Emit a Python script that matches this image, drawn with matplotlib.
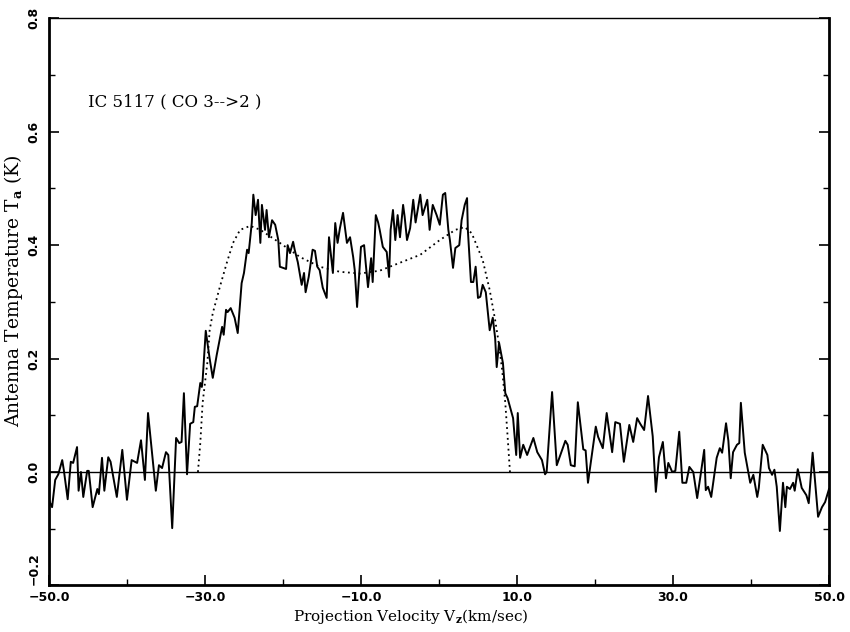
import numpy as np
import matplotlib.pyplot as plt
from matplotlib.ticker import MultipleLocator

# CO 3-2 spectrum of IC 5117
vel = [-50.0, -49.6, -49.2, -48.8, -48.3, -48.1, -47.6, -47.2, -46.9, -46.4,
       -46.2, -45.9, -45.6, -45.1, -44.9, -44.4, -43.8, -43.6, -43.2, -42.9,
       -42.4, -42.1, -41.3, -40.6, -40.0, -39.4, -38.7, -38.2, -37.7, -37.3,
       -36.3, -35.9, -35.5, -35.0, -34.7, -34.2, -33.7, -33.3, -33.0, -32.7,
       -32.3, -31.9, -31.5, -31.3, -31.0, -30.6, -30.4, -30.3, -29.9, -29.6,
       -29.4, -29.0, -28.5, -27.8, -27.6, -27.3, -27.1, -26.7, -26.2, -25.8,
       -25.3, -25.0, -24.6, -24.4, -24.0, -23.8, -23.5, -23.2, -22.9, -22.7,
       -22.3, -22.1, -21.8, -21.4, -21.0, -20.6, -20.4, -20.0, -19.6, -19.4,
       -19.1, -18.7, -18.5, -18.1, -17.6, -17.3, -17.1, -16.7, -16.2, -15.9,
       -15.6, -15.3, -14.9, -14.4, -14.1, -13.8, -13.6, -13.3, -13.0, -12.7,
       -12.3, -11.8, -11.4, -11.0, -10.8, -10.5, -10.0, -9.6, -9.4, -9.1,
       -8.7, -8.5, -8.1, -7.8, -7.6, -7.2, -6.7, -6.4, -6.2, -5.9,
       -5.6, -5.3, -5.0, -4.6, -4.4, -4.1, -3.7, -3.3, -3.0, -2.4,
       -2.1, -1.5, -1.2, -0.8, -0.3, 0.1, 0.5, 0.8, 1.2, 1.4,
       1.8, 2.1, 2.6, 2.9, 3.3, 3.6, 3.7, 4.1, 4.4, 4.7,
       5.0, 5.3, 5.6, 6.0, 6.5, 6.9, 7.2, 7.4, 7.7, 8.2,
       8.5, 8.8, 9.1, 9.5, 9.9, 10.1, 10.4, 10.8, 11.3, 12.1,
       12.6, 13.2, 13.6, 13.8, 14.5, 15.1, 16.2, 16.5, 16.9, 17.4,
       17.8, 18.5, 18.8, 19.1, 20.1, 20.4, 21.0, 21.5, 22.2, 22.6,
       23.2, 23.7, 24.4, 24.9, 25.4, 25.8, 26.3, 26.8, 27.4, 27.8,
       28.2, 28.7, 29.1, 29.4, 29.9, 30.3, 30.8, 31.2, 31.7, 32.1,
       32.6, 33.1, 33.5, 34.0, 34.2, 34.5, 34.9, 35.3, 35.6, 36.0,
       36.3, 36.8, 37.1, 37.4, 37.7, 38.2, 38.5, 38.7, 39.2, 39.9,
       40.3, 40.8, 41.0, 41.5, 42.1, 42.3, 42.7, 43.0, 43.3, 43.7,
       44.1, 44.4, 44.6, 45.0, 45.4, 45.6, 46.0, 46.5, 47.1, 47.4,
       47.9, 48.6, 49.1, 49.5, 49.9, 50.0]
temp = [-0.050, -0.062, -0.014, -0.004, 0.021, 0.004, -0.048, 0.018, 0.016, 0.044,
        -0.033, 0.000, -0.044, 0.002, 0.002, -0.062, -0.030, -0.039, 0.025, -0.033,
        0.026, 0.018, -0.044, 0.039, -0.049, 0.021, 0.016, 0.056, -0.014, 0.104,
        -0.033, 0.012, 0.007, 0.035, 0.030, -0.099, 0.060, 0.051, 0.053, 0.139,
        -0.004, 0.085, 0.088, 0.115, 0.116, 0.157, 0.150, 0.162, 0.249, 0.220,
        0.200, 0.166, 0.206, 0.256, 0.242, 0.286, 0.282, 0.289, 0.272, 0.245,
        0.333, 0.351, 0.392, 0.386, 0.439, 0.489, 0.453, 0.480, 0.404, 0.471,
        0.427, 0.462, 0.414, 0.444, 0.436, 0.409, 0.362, 0.360, 0.358, 0.400,
        0.386, 0.406, 0.392, 0.370, 0.330, 0.351, 0.317, 0.344, 0.392, 0.390,
        0.362, 0.356, 0.325, 0.307, 0.414, 0.377, 0.351, 0.439, 0.404, 0.430,
        0.457, 0.404, 0.414, 0.379, 0.356, 0.291, 0.397, 0.400, 0.369, 0.326,
        0.377, 0.335, 0.453, 0.440, 0.427, 0.397, 0.388, 0.344, 0.427, 0.462,
        0.409, 0.453, 0.414, 0.471, 0.450, 0.409, 0.430, 0.480, 0.440, 0.489,
        0.453, 0.480, 0.427, 0.471, 0.453, 0.436, 0.489, 0.492, 0.427, 0.409,
        0.360, 0.395, 0.400, 0.444, 0.471, 0.483, 0.427, 0.335, 0.335, 0.362,
        0.307, 0.309, 0.330, 0.317, 0.250, 0.272, 0.236, 0.185, 0.228, 0.192,
        0.139, 0.130, 0.115, 0.095, 0.030, 0.104, 0.025, 0.048, 0.030, 0.060,
        0.035, 0.021, -0.004, 0.000, 0.141, 0.012, 0.055, 0.048, 0.012, 0.010,
        0.123, 0.040, 0.038, -0.019, 0.080, 0.062, 0.042, 0.104, 0.035, 0.088,
        0.085, 0.018, 0.083, 0.053, 0.095, 0.085, 0.074, 0.134, 0.063, -0.035,
        0.026, 0.053, -0.011, 0.016, 0.000, 0.002, 0.071, -0.019, -0.019, 0.009,
        0.000, -0.046, -0.009, 0.039, -0.032, -0.026, -0.044, -0.005, 0.025, 0.042,
        0.034, 0.086, 0.055, -0.011, 0.035, 0.048, 0.051, 0.122, 0.034, -0.019,
        -0.005, -0.044, -0.028, 0.048, 0.030, 0.007, -0.005, 0.004, -0.026, -0.104,
        -0.019, -0.062, -0.026, -0.030, -0.019, -0.033, 0.005, -0.028, -0.041, -0.055,
        0.034, -0.079, -0.062, -0.053, -0.035, -0.030]

# model profile (dotted)
model_vel = [-30.9, -30.6, -30.3, -29.7, -29.4, -29.0, -28.1, -27.2, -26.4, -25.5,
             -24.2, -22.9, -20.4, -17.8, -15.3, -12.7, -10.1, -7.6, -5.0, -2.4,
             0.1, 2.1, 3.3, 4.2, 5.6, 6.5, 7.2, 7.6, 8.1, 8.5, 8.8, 9.1]
model_temp = [0.0, 0.051, 0.122, 0.192, 0.250, 0.280, 0.326, 0.369, 0.404, 0.427,
              0.434, 0.427, 0.404, 0.379, 0.362, 0.353, 0.350, 0.355, 0.369, 0.383,
              0.409, 0.427, 0.432, 0.421, 0.374, 0.321, 0.268, 0.233, 0.180, 0.122,
              0.062, 0.0]

xticks = [-50, -30, -10, 10, 30, 50]
yticks = [-0.2, 0.0, 0.2, 0.4, 0.6, 0.8]

plt.rcParams['mathtext.fontset'] = 'dejavuserif'

fig = plt.figure(figsize=(8.5, 6.32), dpi=100)
ax = fig.add_axes([0.0576, 0.0737, 0.9177, 0.8973])

ax.plot(vel, temp, color='black', lw=1.4)
ax.plot(model_vel, model_temp, color='black', lw=1.3, ls=(0, (1, 2)))
ax.axhline(0, color='black', lw=1.0)

ax.set_xlim(-50, 50)
ax.set_ylim(-0.2, 0.8)

ax.set_xticks(xticks)
ax.set_xticklabels([('%.1f' % t).replace('-', '\u2212') for t in xticks],
                   fontweight='bold', fontsize=9, family='DejaVu Sans')
ax.set_yticks(yticks)
ylabs = ax.set_yticklabels([('%.1f' % t).replace('-', '\u2212') for t in yticks],
                           fontweight='bold', fontsize=9, family='DejaVu Sans',
                           rotation=90, va='center')
ylabs[0].set_va('bottom')
ax.xaxis.set_minor_locator(MultipleLocator(10))
ax.yaxis.set_minor_locator(MultipleLocator(0.1))
ax.tick_params(which='both', direction='in', right=True, top=False)
ax.tick_params(which='major', length=7, width=1.2)
ax.tick_params(which='minor', length=4, width=1.0)
ax.tick_params(axis='y', pad=6)
ax.tick_params(axis='x', pad=4)

for s in ax.spines.values():
    s.set_linewidth(2.0)
ax.spines['top'].set_linewidth(1.0)

ax.set_xlabel('Projection Velocity V$_\\mathbf{z}$(km/sec)', family='DejaVu Serif',
              fontsize=11)
ax.xaxis.set_label_coords(0.464, -0.038)
ax.set_ylabel('Antenna Temperature T$_\\mathbf{a}$ (K)', family='DejaVu Serif',
              fontsize=13.5)
ax.yaxis.set_label_coords(-0.031, 0.52)
ax.text(-45, 0.653, 'IC 5117 ( CO 3-->2 )', family='DejaVu Serif', fontsize=12,
        va='center')

fig.savefig('out.png', dpi=100)
